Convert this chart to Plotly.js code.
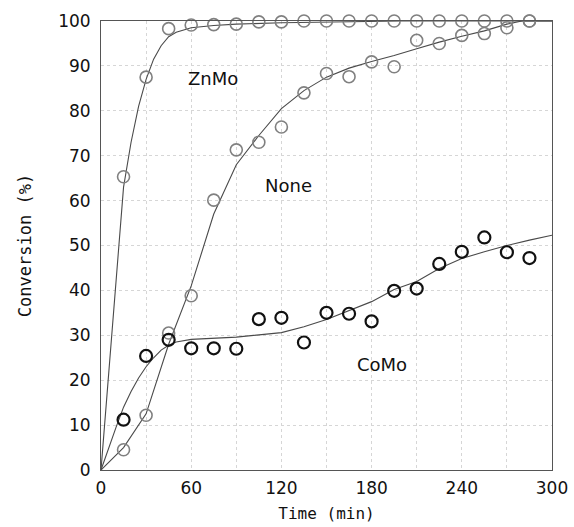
<!DOCTYPE html>
<html>
<head>
<meta charset="utf-8">
<script src="https://cdn.plot.ly/plotly-3.0.1.min.js"></script>
<style>html,body{margin:0;padding:0;background:#fff;}#chart{width:574px;height:527px;}</style>
</head>
<body>
<div id="chart"></div>
<script>
// Measured points (time in min, conversion in %)
var timePts = [15,30,45,60,75,90,105,120,135,150,165,180,195,210,225,240,255,270,285];
var znmoPts = [65.3,87.5,98.3,99.1,99.2,99.3,99.8,99.8,100,100,100,100,100,100,100,100,100,100,100];
var nonePts = [4.5,12.2,30.5,38.8,60.1,71.3,73,76.4,84,88.3,87.6,90.9,89.8,95.7,95,96.8,97.2,98.5,100];
var comoPts = [11.2,25.4,29,27.1,27.1,27,33.6,33.9,28.4,35,34.8,33.1,39.9,40.4,45.9,48.6,51.8,48.5,47.2];

// Fitted curves
var znmoCurveT = [0,5,10,15,20,25,30,35,40,45,50,60,75,90,120,150,200,300];
var znmoCurveY = [0,21,43,63,73,81,87,91.5,94.5,96.5,97.5,98.5,99,99.3,99.6,99.8,100,100];
var noneCurveT = [0,15,30,45,60,75,90,105,120,135,150,165,180,195,210,225,240,255,270,280,300];
var noneCurveY = [0,5,12.5,28,41,57,68,74.5,80.5,84.5,87.5,89.5,91,92.3,93.8,95.3,96.6,97.8,99.3,100,100];
var comoCurveT = [0,5,10,15,20,25,30,35,40,45,50,60,90,120,135,150,165,180,195,210,225,240,255,270,285,300];
var comoCurveY = [0,5,9.5,14,17.5,20.5,23,25,26.7,27.8,28.5,29.1,29.6,30.6,31.9,33.5,35.5,37.5,40.2,42,44.9,47.1,48.6,50,51.2,52.3];

var xTickVals = [0,30,60,90,120,150,180,210,240,270,300];
var xTickText = ['0','','60','','120','','180','','240','','300'];
var yTickVals = [0,10,20,30,40,50,60,70,80,90,100];

var seriesNames = ['ZnMo','None','CoMo'];
var labelX = [74.6,125,187];
var labelY = [87.3,63.3,23.4];

var lineStyle = {color:'#4a4a4a', width:1.1};
var traces = [
  {x:znmoCurveT, y:znmoCurveY, mode:'lines', line:lineStyle, hoverinfo:'skip'},
  {x:noneCurveT, y:noneCurveY, mode:'lines', line:lineStyle, hoverinfo:'skip'},
  {x:comoCurveT, y:comoCurveY, mode:'lines', line:lineStyle, hoverinfo:'skip'},
  {x:timePts, y:znmoPts, mode:'markers', cliponaxis:false,
   marker:{symbol:'circle-open', size:12, color:'#808080', line:{width:1.6, color:'#808080'}}},
  {x:timePts, y:nonePts, mode:'markers', cliponaxis:false,
   marker:{symbol:'circle-open', size:12, color:'#808080', line:{width:1.6, color:'#808080'}}},
  {x:timePts, y:comoPts, mode:'markers', cliponaxis:false,
   marker:{symbol:'circle-open', size:12, color:'#111', line:{width:2.2, color:'#111'}}}
];

var annotations = seriesNames.map(function(n,i){
  return {x:labelX[i], y:labelY[i], xref:'x', yref:'y', text:n, showarrow:false,
          font:{family:'DejaVu Sans', size:18, color:'#111'}};
});

var layout = {
  width:574, height:527,
  margin:{l:101, r:22, t:21, b:57},
  paper_bgcolor:'#fff', plot_bgcolor:'#fff',
  showlegend:false,
  font:{family:'DejaVu Sans', color:'#111'},
  xaxis:{range:[0,300], tickvals:xTickVals, ticktext:xTickText,
         ticks:'outside', ticklen:3, tickcolor:'rgba(0,0,0,0)',
         showgrid:true, gridcolor:'#d6d6d6', griddash:'dot', gridwidth:1,
         zeroline:false, showline:true, linecolor:'#555', linewidth:1, mirror:true,
         tickfont:{family:'DejaVu Sans', size:17, color:'#111'},
         title:{text:'Time (min)', font:{family:'DejaVu Sans Mono', size:16, color:'#111'}, standoff:10}},
  yaxis:{range:[0,100], tickvals:yTickVals,
         ticks:'outside', ticklen:6, tickcolor:'rgba(0,0,0,0)',
         showgrid:true, gridcolor:'#d6d6d6', griddash:'dot', gridwidth:1,
         zeroline:false, showline:true, linecolor:'#555', linewidth:1, mirror:true,
         tickfont:{family:'DejaVu Sans', size:17, color:'#111'},
         title:{text:'Conversion (%)', font:{family:'DejaVu Sans Mono', size:17, color:'#111'}, standoff:22}},
  annotations:annotations
};

Plotly.newPlot('chart', traces, layout, {displayModeBar:false, staticPlot:true});
</script>
</body>
</html>
